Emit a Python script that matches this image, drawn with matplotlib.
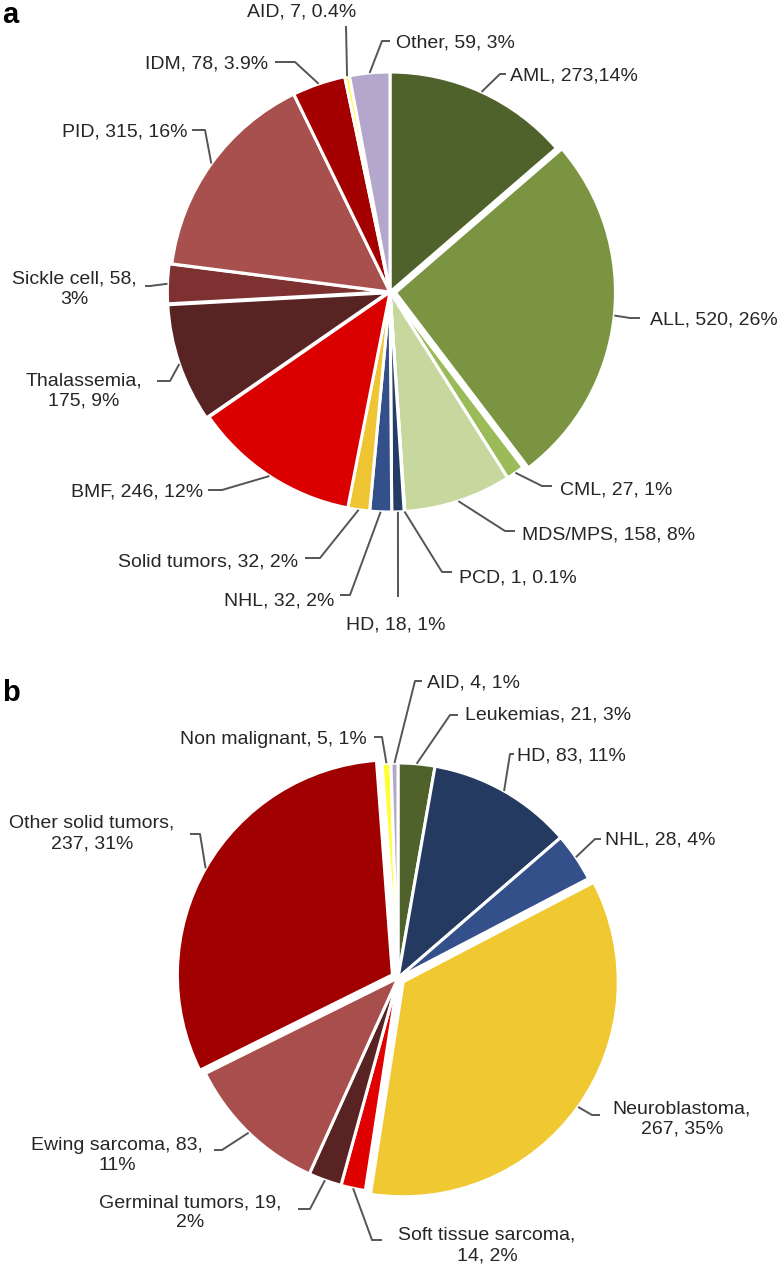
import numpy as np
import matplotlib.pyplot as plt

W, H = 783, 1272
plt.rcParams['font.family'] = ['Liberation Sans', 'DejaVu Sans']

# ---- panel a data (clockwise from 12 o'clock) ----
a_names = ['AML', 'ALL', 'CML', 'MDS/MPS', 'PCD', 'HD', 'NHL', 'Solid tumors',
           'BMF', 'Thalassemia', 'Sickle cell', 'PID', 'IDM', 'AID', 'Other']
a_counts = [273, 520, 27, 158, 1, 18, 32, 32, 246, 175, 58, 315, 78, 7, 59]
a_text = ['AML, 273,14%', 'ALL, 520, 26%', 'CML, 27, 1%', 'MDS/MPS, 158, 8%',
          'PCD, 1, 0.1%', 'HD, 18, 1%', 'NHL, 32, 2%', 'Solid tumors, 32, 2%',
          'BMF, 246, 12%', 'Thalassemia,\n175, 9%', 'Sickle cell, 58,\n3%',
          'PID, 315, 16%', 'IDM, 78, 3.9%', 'AID, 7, 0.4%', 'Other, 59, 3%']
a_colors = ['#4f622b', '#7a9441', '#9bbb59', '#c6d89e', '#1c2f55', '#243d66',
            '#34508a', '#efc533', '#da0000', '#582323', '#7d3131', '#a8504e',
            '#a50000', '#ffff33', '#b3a7cc']

# ---- panel b data ----
b_names = ['Leukemias', 'HD', 'NHL', 'Neuroblastoma', 'Soft tissue sarcoma',
           'Germinal tumors', 'Ewing sarcoma', 'Other solid tumors',
           'Non malignant', 'AID']
b_counts = [21, 83, 28, 267, 14, 19, 83, 237, 5, 4]
b_text = ['Leukemias, 21, 3%', 'HD, 83, 11%', 'NHL, 28, 4%', 'Neuroblastoma,\n267, 35%',
          'Soft tissue sarcoma,\n14, 2%', 'Germinal tumors, 19,\n2%',
          'Ewing sarcoma, 83,\n11%', 'Other solid tumors,\n237, 31%',
          'Non malignant, 5, 1%', 'AID, 4, 1%']
b_colors = ['#4f622b', '#243a60', '#34508a', '#f0c832', '#e00000', '#5a2323',
            '#a84e4c', '#a00000', '#ffff33', '#b3a7cc']

# layout: pie centre/radius in pixels, explode (fraction), leader elbows and text spots
a_geo = dict(cx=390, cy=292, r=220)
a_expl = [0, .025, 0, 0, 0, 0, 0, 0, 0, .012, .012, 0, 0, 0, 0]
# (elbow x, elbow y, tail end x, text x, text y, ha)
a_lay = [(500, 74, 506, 510, 74, 'left'),
         (630, 318, 640, 650, 318, 'left'),
         (542, 486, 552, 560, 488, 'left'),
         (505, 531, 515, 522, 533, 'left'),
         (442, 572, 452, 459, 576, 'left'),
         (398, 597, None, 396, 623, 'center'),
         (350, 595, 340, 334, 599, 'right'),
         (320, 558, 305, 298, 560, 'right'),
         (222, 490, 208, 203, 490, 'right'),
         (170, 381, 157, 84, 387, 'ctr_r'),
         (150, 286, 145, 74, 286, 'ctr_r'),
         (205, 130, 192, 187, 130, 'right'),
         (295, 62, 275, 268, 62, 'right'),
         (346, 26, None, 302, 10, 'center'),
         (382, 41, 390, 396, 41, 'left')]

b_geo = dict(cx=398, cy=978, r=215)
b_expl = [0, 0, 0, .03, 0, 0, 0, .03, 0, 0]
b_lay = [(450, 715, 458, 465, 713, 'left'),
         (510, 754, 514, 517, 754, 'left'),
         (595, 839, 601, 605, 838, 'left'),
         (592, 1115, 600, 682, 1115, 'ctr_l'),
         (372, 1240, 382, 487, 1242, 'ctr_l'),
         (310, 1209, 298, 190, 1209, 'ctr_r'),
         (222, 1150, 214, 117, 1152, 'ctr_r'),
         (200, 834, 190, 92, 830, 'ctr_r'),
         (382, 737, 374, 367, 737, 'right'),
         (415, 681, 422, 427, 681, 'left')]

fig = plt.figure(figsize=(W / 100, H / 100), dpi=100)
ax = fig.add_axes([0, 0, 1, 1])

TXT = '#262626'
LINE = '#555555'


def draw_panel(counts, colors, texts, geo, expl, lay):
    r = geo['r']
    wedges, _ = ax.pie(counts, colors=colors, startangle=90, counterclock=False,
                       center=(geo['cx'], H - geo['cy']), radius=r,
                       explode=[e * r for e in expl],
                       wedgeprops=dict(edgecolor='white', linewidth=2.2))
    for w, txt, (ex, ey, tx, px, py, ha) in zip(wedges, texts, lay):
        mid = np.deg2rad((w.theta1 + w.theta2) / 2)
        sx = w.center[0] + w.r * np.cos(mid)
        sy = w.center[1] + w.r * np.sin(mid)
        xs = [sx, ex]
        ys = [sy, H - ey]
        if tx is not None:
            xs.append(tx)
            ys.append(H - ey)
        ax.plot(xs, ys, color=LINE, lw=1.4, solid_capstyle='butt', zorder=3)
        if ha.startswith('ctr'):
            ax.text(px, H - py, txt, ha='center', va='center_baseline',
                    multialignment='center', fontsize=14, color=TXT,
                    linespacing=1.25)
        else:
            ax.text(px, H - py, txt, ha=ha, va='center_baseline', fontsize=14,
                    color=TXT)


draw_panel(a_counts, a_colors, a_text, a_geo, a_expl, a_lay)
draw_panel(b_counts, b_colors, b_text, b_geo, b_expl, b_lay)

ax.text(2, H - 12, 'a', fontsize=21, fontweight='bold', color='black',
        va='center_baseline', ha='left')
ax.text(2, H - 690, 'b', fontsize=21, fontweight='bold', color='black',
        va='center_baseline', ha='left')

ax.set_xlim(0, W)
ax.set_ylim(0, H)
ax.set_aspect('equal')
ax.axis('off')

plt.savefig('out.png', dpi=100)
